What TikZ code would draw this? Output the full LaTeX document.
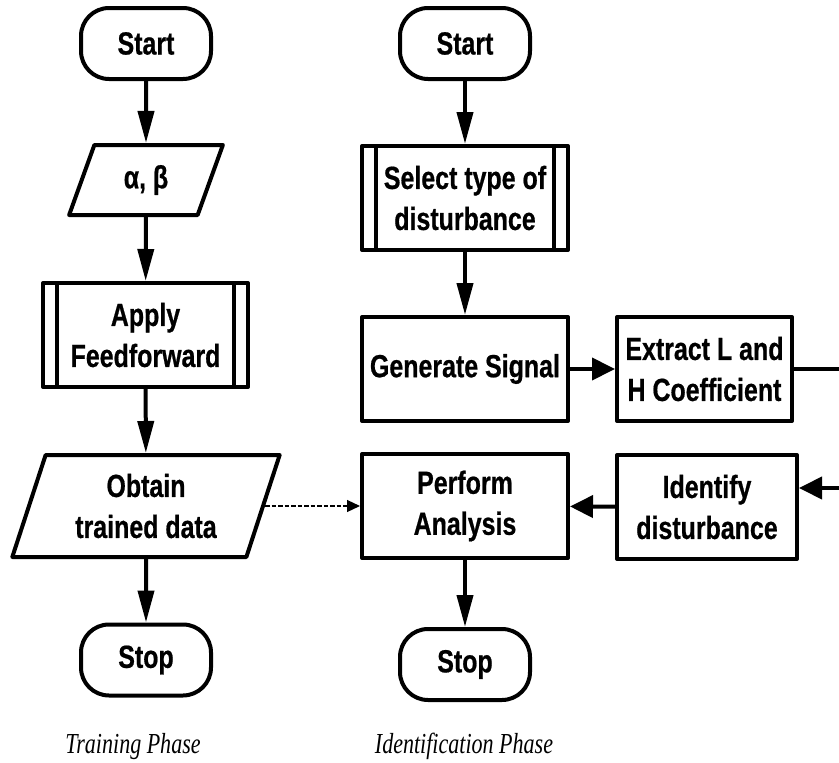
\documentclass[tikz,border=0pt]{standalone}
\usepackage{fontspec}
\usetikzlibrary{arrows.meta,shapes.geometric,calc}
\newfontfamily\labfont[FakeStretch=0.78, BoldFeatures={FakeBold=0.6}]{Liberation Sans}
\newfontfamily\capfont[FakeStretch=0.76]{Liberation Serif}
\begin{document}
\begin{tikzpicture}[x=1pt,y=-1pt,
  base/.style={draw, line width=4pt, line join=round, align=center, inner sep=0pt,
    font=\labfont\bfseries\fontsize{32}{41}\selectfont, fill=white},
  term/.style={base, rounded corners=28pt, minimum width=130pt, minimum height=71pt},
  procbox/.style={base, minimum width=206pt, minimum height=104pt},
  iobox/.style={base, trapezium, trapezium left angle=70, trapezium right angle=110,
    trapezium stretches=true},
  arr/.style={line width=4pt, -{Triangle[length=32pt,width=16pt]}},
  harr/.style={line width=4pt, -{Triangle[length=23pt,width=22pt]}},
  darr/.style={line width=1.2pt, dash pattern=on 4.5pt off 2pt, -{Triangle[length=13pt,width=12pt]}},
  barline/.style={line width=3.5pt},
  phase/.style={font=\capfont\itshape\fontsize{29}{34}\selectfont, anchor=base, inner sep=0pt}
]
\useasboundingbox (0,0) rectangle (839,763);

% Training phase
\node[term] (s1) at (146,43.5) {Start};
\node[iobox, minimum width=154pt, minimum height=70pt] (ab) at (146,180) {α, β};
\node[procbox, minimum width=205pt] (apply) at (145.5,335) {Apply\\Feedforward};
\node[iobox, minimum width=268pt, minimum height=102pt] (obtain) at (146,506) {Obtain\\trained data};
\node[term] (e1) at (146,660) {Stop};
\node[phase] (tp) at (133,753) {Training Phase};

% Identification phase
\node[term] (s2) at (465,43.5) {Start};
\node[procbox] (select) at (465,198) {Select type of\\disturbance};
\node[procbox] (gen) at (465,369) {Generate Signal};
\node[procbox, minimum width=175pt] (ext) at (704.5,369) {Extract L and\\H Coefficient};
\node[procbox] (perf) at (465,506) {Perform\\Analysis};
\node[procbox, minimum width=180pt] (ident) at (707,507) {Identify\\disturbance};
\node[term] (e2) at (465,664.5) {Stop};
\node[phase] (ip) at (464,753) {Identification Phase};

% inner bars of predefined process boxes
\foreach \n in {apply,select}{
  \draw[barline] ([xshift=16pt]\n.north west) -- ([xshift=16pt]\n.south west);
  \draw[barline] ([xshift=-16pt]\n.north east) -- ([xshift=-16pt]\n.south east);
}

% connectors
\draw[arr] (s1) -- (ab);
\draw[arr] (ab) -- (apply);
\draw[arr] (apply) -- (obtain);
\draw[arr] (obtain) -- (e1);

\draw[arr] (s2) -- (select);
\draw[arr] (select) -- (gen);
\draw[harr] (gen) -- (ext);
\coordinate (r1) at (850,369);
\coordinate (r2) at (850,488);
\coordinate (idin) at ($(ident.east)+(0,-19)$);
\draw[harr] (ext.east) -- (r1) -- (r2) -- (idin);
\draw[harr] (ident) -- (perf);
\draw[arr] (perf) -- (e2);
\draw[darr] (obtain) -- (perf);
\end{tikzpicture}
\end{document}
